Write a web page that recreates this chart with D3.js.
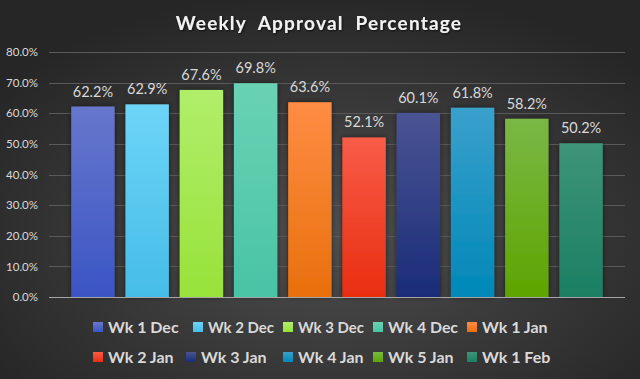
<!DOCTYPE html>
<html><head><meta charset="utf-8">
<script src="https://cdn.jsdelivr.net/npm/d3@7"></script>
<style>html,body{margin:0;padding:0;background:#333;}svg{display:block;}</style>
</head><body>
<svg id="c" width="640" height="379"></svg>
<script>
const categories = ["Wk 1 Dec","Wk 2 Dec","Wk 3 Dec","Wk 4 Dec","Wk 1 Jan","Wk 2 Jan","Wk 3 Jan","Wk 4 Jan","Wk 5 Jan","Wk 1 Feb"];
const values = [0.622,0.629,0.676,0.698,0.636,0.521,0.601,0.618,0.582,0.502];
const colorsTop = ["#6677cc","#6dd4f7","#b0ee6a","#6ad2b4","#ff8c44","#f85c48","#4a5494","#3aa0cc","#7ab846","#3e9478"];
const colorsBottom = ["#3b55c4","#45bde8","#98e23a","#48c4a4","#e8700c","#e82e10","#1a2c78","#0088b8","#5ea400","#1b7f63"];
const yTicks = [0,0.1,0.2,0.3,0.4,0.5,0.6,0.7,0.8];
const title = "Weekly Approval Percentage";

const svg = d3.select("#c");
const W = 640, H = 379;
const defs = svg.append("defs");
const bg = defs.append("radialGradient").attr("id","bg").attr("cx","52%").attr("cy","62%").attr("r","65%");
bg.append("stop").attr("offset","0%").attr("stop-color","#4e4e4e");
bg.append("stop").attr("offset","100%").attr("stop-color","#262626");
svg.append("rect").attr("width",W).attr("height",H).attr("fill","url(#bg)");

const sh = defs.append("filter").attr("id","sh").attr("x","-30%").attr("y","-10%").attr("width","160%").attr("height","120%");
sh.append("feDropShadow").attr("dx",0).attr("dy",0).attr("stdDeviation",2.5).attr("flood-color","#000").attr("flood-opacity",0.55);
const tsh = defs.append("filter").attr("id","tsh");
tsh.append("feDropShadow").attr("dx",1).attr("dy",1).attr("stdDeviation",0.8).attr("flood-color","#000").attr("flood-opacity",0.7);

categories.forEach((c,i)=>{
  const g = defs.append("linearGradient").attr("id","g"+i).attr("x1",0).attr("y1",0).attr("x2",0).attr("y2",1);
  g.append("stop").attr("offset","0%").attr("stop-color",colorsTop[i]);
  g.append("stop").attr("offset","100%").attr("stop-color",colorsBottom[i]);
});

const x0 = 49, x1 = 625, yTop = 52, yBase = 297;
const y = d3.scaleLinear().domain([0,0.8]).range([yBase,yTop]);
const x = d3.scaleBand().domain(categories).range([x0,x1]).paddingInner(0.2).paddingOuter(0.41);

// gridlines
svg.append("g").selectAll("line").data(yTicks.filter(d=>d>0)).join("line")
  .attr("x1",x0).attr("x2",x1).attr("y1",d=>Math.round(y(d))+0.5).attr("y2",d=>Math.round(y(d))+0.5)
  .attr("stroke","#5a5a5a").attr("stroke-width",1);

// y axis
const yAxis = d3.axisLeft(y).tickValues(yTicks).tickFormat(d3.format(".1%")).tickSize(0).tickPadding(11);
const ya = svg.append("g").attr("transform",`translate(${x0},0)`).call(yAxis);
ya.select(".domain").remove();
ya.selectAll("text").attr("fill","#d9d9d9").style("font-family","Lato, 'Open Sans', sans-serif").style("font-size","11.5px");

// bars
svg.append("g").selectAll("rect").data(values).join("rect")
  .attr("x",(d,i)=>x(categories[i])).attr("width",x.bandwidth())
  .attr("y",d=>y(d)).attr("height",d=>yBase-y(d))
  .attr("fill",(d,i)=>`url(#g${i})`).attr("filter","url(#sh)");

// baseline
svg.append("line").attr("x1",x0).attr("x2",x1).attr("y1",yBase+0.5).attr("y2",yBase+0.5).attr("stroke","#a6a6a6").attr("stroke-width",1.2);

// labels
svg.append("g").selectAll("text").data(values).join("text")
  .attr("x",(d,i)=>x(categories[i])+x.bandwidth()/2).attr("y",d=>y(d)-10)
  .attr("text-anchor","middle").attr("fill","#d9d9d9")
  .style("font-family","Lato, 'Open Sans', sans-serif").style("font-size","14.5px")
  .text(d=>d3.format(".1%")(d));

// title
svg.append("text").attr("x",319).attr("y",30).attr("text-anchor","middle")
  .attr("fill","#f2f2f2").attr("filter","url(#tsh)")
  .style("font-family","Lato, 'Open Sans', sans-serif").style("font-size","19px").style("font-weight","bold")
  .style("letter-spacing","1.2px").style("word-spacing","6px")
  .text(title);

// legend
const legX = [[93,193,283,373,467],[93,186,283,373,467]];
const legY = [327,357];
const leg = svg.append("g");
categories.forEach((c,i)=>{
  const r = Math.floor(i/5), col = i%5;
  const gx = legX[r][col], gy = legY[r];
  leg.append("rect").attr("x",gx).attr("y",gy-5).attr("width",10).attr("height",10).attr("fill",`url(#g${i})`);
  const t = leg.append("text").attr("x",gx+15).attr("y",gy+6).attr("fill","#d9d9d9")
    .style("font-family","Lato, 'Open Sans', sans-serif").style("font-size","16px").style("font-weight","bold")
    .text(c);
  const avail = (col < 4 ? legX[r][col+1] : 560) - gx - 15 - 9;
  const len = t.node().getComputedTextLength();
  if (len > avail) t.attr("textLength",avail).attr("lengthAdjust","spacingAndGlyphs");
});
</script>
</body></html>
